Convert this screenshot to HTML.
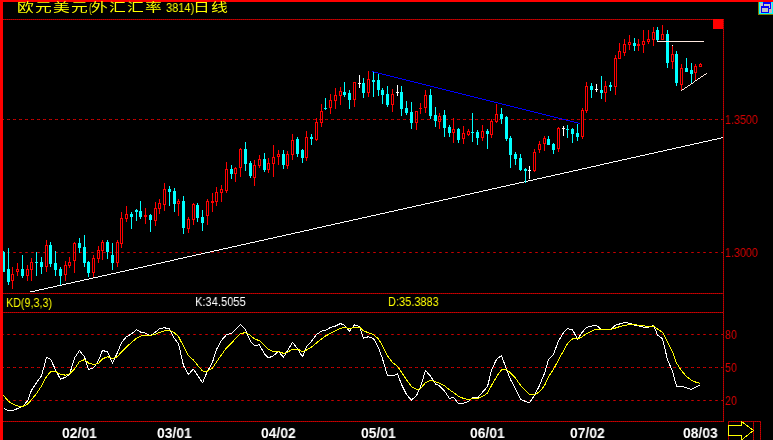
<!DOCTYPE html>
<html><head><meta charset="utf-8"><title>欧元美元 日线</title>
<style>
html,body{margin:0;padding:0;background:#000;}
#c{position:relative;width:773px;height:440px;background:#000;overflow:hidden;font-family:"Liberation Sans","Noto Sans CJK SC",sans-serif;}
#c svg{position:absolute;left:0;top:0;}
.t{position:absolute;white-space:nowrap;transform-origin:0 0;line-height:1;will-change:transform;}
.ax{color:#d80000;font-size:12.5px;transform:scaleX(0.86);}
.dt{color:#fff;font-weight:bold;font-size:14px;transform:scaleX(0.99);}
.kd{font-size:12.5px;transform:scaleX(0.88);}
.ti{color:#ffff00;font-size:12px;}
</style></head><body>
<div id="c">
<svg width="773" height="440" viewBox="0 0 773 440" shape-rendering="crispEdges">
<defs><pattern id="dz" width="2" height="2" patternUnits="userSpaceOnUse"><rect width="2" height="2" fill="#980000"/><rect width="1" height="1" fill="#cc0000"/><rect x="1" y="1" width="1" height="1" fill="#cc0000"/></pattern></defs>
<rect x="0" y="0" width="773" height="2" fill="#ff0000"/>
<rect x="3" y="19" width="721" height="1" fill="url(#dz)"/>
<rect x="3" y="293" width="721" height="1" fill="url(#dz)"/>
<rect x="3" y="312" width="721" height="1" fill="url(#dz)"/>
<rect x="3" y="421" width="721" height="1" fill="url(#dz)"/>
<rect x="723" y="19" width="1" height="403" fill="url(#dz)"/>
<path d="M3 119.5h1M7 119.5h3M13 119.5h3M19 119.5h3M25 119.5h3M31 119.5h3M37 119.5h3M43 119.5h3M49 119.5h3M55 119.5h3M61 119.5h3M67 119.5h3M73 119.5h3M79 119.5h3M85 119.5h3M91 119.5h3M97 119.5h3M103 119.5h3M109 119.5h3M115 119.5h3M121 119.5h3M127 119.5h3M133 119.5h3M139 119.5h3M145 119.5h3M151 119.5h3M157 119.5h3M163 119.5h3M169 119.5h3M175 119.5h3M181 119.5h3M187 119.5h3M193 119.5h3M199 119.5h3M205 119.5h3M211 119.5h3M217 119.5h3M223 119.5h3M229 119.5h3M235 119.5h3M241 119.5h3M247 119.5h3M253 119.5h3M259 119.5h3M265 119.5h3M271 119.5h3M277 119.5h3M283 119.5h3M289 119.5h3M295 119.5h3M301 119.5h3M307 119.5h3M313 119.5h3M319 119.5h3M325 119.5h3M331 119.5h3M337 119.5h3M343 119.5h3M349 119.5h3M355 119.5h3M361 119.5h3M367 119.5h3M373 119.5h3M379 119.5h3M385 119.5h3M391 119.5h3M397 119.5h3M403 119.5h3M409 119.5h3M415 119.5h3M421 119.5h3M427 119.5h3M433 119.5h3M439 119.5h3M445 119.5h3M451 119.5h3M457 119.5h3M463 119.5h3M469 119.5h3M475 119.5h3M481 119.5h3M487 119.5h3M493 119.5h3M499 119.5h3M505 119.5h3M511 119.5h3M517 119.5h3M523 119.5h3M529 119.5h3M535 119.5h3M541 119.5h3M547 119.5h3M553 119.5h3M559 119.5h3M565 119.5h3M571 119.5h3M577 119.5h3M583 119.5h3M589 119.5h3M595 119.5h3M601 119.5h3M607 119.5h3M613 119.5h3M619 119.5h3M625 119.5h3M631 119.5h3M637 119.5h3M643 119.5h3M649 119.5h3M655 119.5h3M661 119.5h3M667 119.5h3M673 119.5h3M679 119.5h3M685 119.5h3M691 119.5h3M697 119.5h3M703 119.5h3M709 119.5h3M715 119.5h3M721 119.5h2" stroke="url(#dz)" stroke-width="1" fill="none"/>
<path d="M3 252.5h1M7 252.5h3M13 252.5h3M19 252.5h3M25 252.5h3M31 252.5h3M37 252.5h3M43 252.5h3M49 252.5h3M55 252.5h3M61 252.5h3M67 252.5h3M73 252.5h3M79 252.5h3M85 252.5h3M91 252.5h3M97 252.5h3M103 252.5h3M109 252.5h3M115 252.5h3M121 252.5h3M127 252.5h3M133 252.5h3M139 252.5h3M145 252.5h3M151 252.5h3M157 252.5h3M163 252.5h3M169 252.5h3M175 252.5h3M181 252.5h3M187 252.5h3M193 252.5h3M199 252.5h3M205 252.5h3M211 252.5h3M217 252.5h3M223 252.5h3M229 252.5h3M235 252.5h3M241 252.5h3M247 252.5h3M253 252.5h3M259 252.5h3M265 252.5h3M271 252.5h3M277 252.5h3M283 252.5h3M289 252.5h3M295 252.5h3M301 252.5h3M307 252.5h3M313 252.5h3M319 252.5h3M325 252.5h3M331 252.5h3M337 252.5h3M343 252.5h3M349 252.5h3M355 252.5h3M361 252.5h3M367 252.5h3M373 252.5h3M379 252.5h3M385 252.5h3M391 252.5h3M397 252.5h3M403 252.5h3M409 252.5h3M415 252.5h3M421 252.5h3M427 252.5h3M433 252.5h3M439 252.5h3M445 252.5h3M451 252.5h3M457 252.5h3M463 252.5h3M469 252.5h3M475 252.5h3M481 252.5h3M487 252.5h3M493 252.5h3M499 252.5h3M505 252.5h3M511 252.5h3M517 252.5h3M523 252.5h3M529 252.5h3M535 252.5h3M541 252.5h3M547 252.5h3M553 252.5h3M559 252.5h3M565 252.5h3M571 252.5h3M577 252.5h3M583 252.5h3M589 252.5h3M595 252.5h3M601 252.5h3M607 252.5h3M613 252.5h3M619 252.5h3M625 252.5h3M631 252.5h3M637 252.5h3M643 252.5h3M649 252.5h3M655 252.5h3M661 252.5h3M667 252.5h3M673 252.5h3M679 252.5h3M685 252.5h3M691 252.5h3M697 252.5h3M703 252.5h3M709 252.5h3M715 252.5h3M721 252.5h2" stroke="url(#dz)" stroke-width="1" fill="none"/>
<path d="M3 334.5h1M7 334.5h3M13 334.5h3M19 334.5h3M25 334.5h3M31 334.5h3M37 334.5h3M43 334.5h3M49 334.5h3M55 334.5h3M61 334.5h3M67 334.5h3M73 334.5h3M79 334.5h3M85 334.5h3M91 334.5h3M97 334.5h3M103 334.5h3M109 334.5h3M115 334.5h3M121 334.5h3M127 334.5h3M133 334.5h3M139 334.5h3M145 334.5h3M151 334.5h3M157 334.5h3M163 334.5h3M169 334.5h3M175 334.5h3M181 334.5h3M187 334.5h3M193 334.5h3M199 334.5h3M205 334.5h3M211 334.5h3M217 334.5h3M223 334.5h3M229 334.5h3M235 334.5h3M241 334.5h3M247 334.5h3M253 334.5h3M259 334.5h3M265 334.5h3M271 334.5h3M277 334.5h3M283 334.5h3M289 334.5h3M295 334.5h3M301 334.5h3M307 334.5h3M313 334.5h3M319 334.5h3M325 334.5h3M331 334.5h3M337 334.5h3M343 334.5h3M349 334.5h3M355 334.5h3M361 334.5h3M367 334.5h3M373 334.5h3M379 334.5h3M385 334.5h3M391 334.5h3M397 334.5h3M403 334.5h3M409 334.5h3M415 334.5h3M421 334.5h3M427 334.5h3M433 334.5h3M439 334.5h3M445 334.5h3M451 334.5h3M457 334.5h3M463 334.5h3M469 334.5h3M475 334.5h3M481 334.5h3M487 334.5h3M493 334.5h3M499 334.5h3M505 334.5h3M511 334.5h3M517 334.5h3M523 334.5h3M529 334.5h3M535 334.5h3M541 334.5h3M547 334.5h3M553 334.5h3M559 334.5h3M565 334.5h3M571 334.5h3M577 334.5h3M583 334.5h3M589 334.5h3M595 334.5h3M601 334.5h3M607 334.5h3M613 334.5h3M619 334.5h3M625 334.5h3M631 334.5h3M637 334.5h3M643 334.5h3M649 334.5h3M655 334.5h3M661 334.5h3M667 334.5h3M673 334.5h3M679 334.5h3M685 334.5h3M691 334.5h3M697 334.5h3M703 334.5h3M709 334.5h3M715 334.5h3M721 334.5h2" stroke="url(#dz)" stroke-width="1" fill="none"/>
<path d="M3 367.5h1M7 367.5h3M13 367.5h3M19 367.5h3M25 367.5h3M31 367.5h3M37 367.5h3M43 367.5h3M49 367.5h3M55 367.5h3M61 367.5h3M67 367.5h3M73 367.5h3M79 367.5h3M85 367.5h3M91 367.5h3M97 367.5h3M103 367.5h3M109 367.5h3M115 367.5h3M121 367.5h3M127 367.5h3M133 367.5h3M139 367.5h3M145 367.5h3M151 367.5h3M157 367.5h3M163 367.5h3M169 367.5h3M175 367.5h3M181 367.5h3M187 367.5h3M193 367.5h3M199 367.5h3M205 367.5h3M211 367.5h3M217 367.5h3M223 367.5h3M229 367.5h3M235 367.5h3M241 367.5h3M247 367.5h3M253 367.5h3M259 367.5h3M265 367.5h3M271 367.5h3M277 367.5h3M283 367.5h3M289 367.5h3M295 367.5h3M301 367.5h3M307 367.5h3M313 367.5h3M319 367.5h3M325 367.5h3M331 367.5h3M337 367.5h3M343 367.5h3M349 367.5h3M355 367.5h3M361 367.5h3M367 367.5h3M373 367.5h3M379 367.5h3M385 367.5h3M391 367.5h3M397 367.5h3M403 367.5h3M409 367.5h3M415 367.5h3M421 367.5h3M427 367.5h3M433 367.5h3M439 367.5h3M445 367.5h3M451 367.5h3M457 367.5h3M463 367.5h3M469 367.5h3M475 367.5h3M481 367.5h3M487 367.5h3M493 367.5h3M499 367.5h3M505 367.5h3M511 367.5h3M517 367.5h3M523 367.5h3M529 367.5h3M535 367.5h3M541 367.5h3M547 367.5h3M553 367.5h3M559 367.5h3M565 367.5h3M571 367.5h3M577 367.5h3M583 367.5h3M589 367.5h3M595 367.5h3M601 367.5h3M607 367.5h3M613 367.5h3M619 367.5h3M625 367.5h3M631 367.5h3M637 367.5h3M643 367.5h3M649 367.5h3M655 367.5h3M661 367.5h3M667 367.5h3M673 367.5h3M679 367.5h3M685 367.5h3M691 367.5h3M697 367.5h3M703 367.5h3M709 367.5h3M715 367.5h3M721 367.5h2" stroke="url(#dz)" stroke-width="1" fill="none"/>
<path d="M3 400.5h1M7 400.5h3M13 400.5h3M19 400.5h3M25 400.5h3M31 400.5h3M37 400.5h3M43 400.5h3M49 400.5h3M55 400.5h3M61 400.5h3M67 400.5h3M73 400.5h3M79 400.5h3M85 400.5h3M91 400.5h3M97 400.5h3M103 400.5h3M109 400.5h3M115 400.5h3M121 400.5h3M127 400.5h3M133 400.5h3M139 400.5h3M145 400.5h3M151 400.5h3M157 400.5h3M163 400.5h3M169 400.5h3M175 400.5h3M181 400.5h3M187 400.5h3M193 400.5h3M199 400.5h3M205 400.5h3M211 400.5h3M217 400.5h3M223 400.5h3M229 400.5h3M235 400.5h3M241 400.5h3M247 400.5h3M253 400.5h3M259 400.5h3M265 400.5h3M271 400.5h3M277 400.5h3M283 400.5h3M289 400.5h3M295 400.5h3M301 400.5h3M307 400.5h3M313 400.5h3M319 400.5h3M325 400.5h3M331 400.5h3M337 400.5h3M343 400.5h3M349 400.5h3M355 400.5h3M361 400.5h3M367 400.5h3M373 400.5h3M379 400.5h3M385 400.5h3M391 400.5h3M397 400.5h3M403 400.5h3M409 400.5h3M415 400.5h3M421 400.5h3M427 400.5h3M433 400.5h3M439 400.5h3M445 400.5h3M451 400.5h3M457 400.5h3M463 400.5h3M469 400.5h3M475 400.5h3M481 400.5h3M487 400.5h3M493 400.5h3M499 400.5h3M505 400.5h3M511 400.5h3M517 400.5h3M523 400.5h3M529 400.5h3M535 400.5h3M541 400.5h3M547 400.5h3M553 400.5h3M559 400.5h3M565 400.5h3M571 400.5h3M577 400.5h3M583 400.5h3M589 400.5h3M595 400.5h3M601 400.5h3M607 400.5h3M613 400.5h3M619 400.5h3M625 400.5h3M631 400.5h3M637 400.5h3M643 400.5h3M649 400.5h3M655 400.5h3M661 400.5h3M667 400.5h3M673 400.5h3M679 400.5h3M685 400.5h3M691 400.5h3M697 400.5h3M703 400.5h3M709 400.5h3M715 400.5h3M721 400.5h2" stroke="url(#dz)" stroke-width="1" fill="none"/>
<rect x="713" y="19" width="10" height="10" fill="#ff0000"/>
<rect x="30" y="291" width="5" height="1" fill="#ffffff"/>
<rect x="35" y="290" width="4" height="1" fill="#ffffff"/>
<rect x="39" y="289" width="5" height="1" fill="#ffffff"/>
<rect x="44" y="288" width="4" height="1" fill="#ffffff"/>
<rect x="48" y="287" width="5" height="1" fill="#ffffff"/>
<rect x="53" y="286" width="4" height="1" fill="#ffffff"/>
<rect x="57" y="285" width="5" height="1" fill="#ffffff"/>
<rect x="62" y="284" width="4" height="1" fill="#ffffff"/>
<rect x="66" y="283" width="5" height="1" fill="#ffffff"/>
<rect x="71" y="282" width="4" height="1" fill="#ffffff"/>
<rect x="75" y="281" width="5" height="1" fill="#ffffff"/>
<rect x="80" y="280" width="4" height="1" fill="#ffffff"/>
<rect x="84" y="279" width="5" height="1" fill="#ffffff"/>
<rect x="89" y="278" width="4" height="1" fill="#ffffff"/>
<rect x="93" y="277" width="5" height="1" fill="#ffffff"/>
<rect x="98" y="276" width="4" height="1" fill="#ffffff"/>
<rect x="102" y="275" width="5" height="1" fill="#ffffff"/>
<rect x="107" y="274" width="4" height="1" fill="#ffffff"/>
<rect x="111" y="273" width="5" height="1" fill="#ffffff"/>
<rect x="116" y="272" width="4" height="1" fill="#ffffff"/>
<rect x="120" y="271" width="5" height="1" fill="#ffffff"/>
<rect x="125" y="270" width="4" height="1" fill="#ffffff"/>
<rect x="129" y="269" width="5" height="1" fill="#ffffff"/>
<rect x="134" y="268" width="4" height="1" fill="#ffffff"/>
<rect x="138" y="267" width="5" height="1" fill="#ffffff"/>
<rect x="143" y="266" width="4" height="1" fill="#ffffff"/>
<rect x="147" y="265" width="5" height="1" fill="#ffffff"/>
<rect x="152" y="264" width="4" height="1" fill="#ffffff"/>
<rect x="156" y="263" width="5" height="1" fill="#ffffff"/>
<rect x="161" y="262" width="4" height="1" fill="#ffffff"/>
<rect x="165" y="261" width="5" height="1" fill="#ffffff"/>
<rect x="170" y="260" width="4" height="1" fill="#ffffff"/>
<rect x="174" y="259" width="4" height="1" fill="#ffffff"/>
<rect x="178" y="258" width="5" height="1" fill="#ffffff"/>
<rect x="183" y="257" width="4" height="1" fill="#ffffff"/>
<rect x="187" y="256" width="5" height="1" fill="#ffffff"/>
<rect x="192" y="255" width="4" height="1" fill="#ffffff"/>
<rect x="196" y="254" width="5" height="1" fill="#ffffff"/>
<rect x="201" y="253" width="4" height="1" fill="#ffffff"/>
<rect x="205" y="252" width="5" height="1" fill="#ffffff"/>
<rect x="210" y="251" width="4" height="1" fill="#ffffff"/>
<rect x="214" y="250" width="5" height="1" fill="#ffffff"/>
<rect x="219" y="249" width="4" height="1" fill="#ffffff"/>
<rect x="223" y="248" width="5" height="1" fill="#ffffff"/>
<rect x="228" y="247" width="4" height="1" fill="#ffffff"/>
<rect x="232" y="246" width="5" height="1" fill="#ffffff"/>
<rect x="237" y="245" width="4" height="1" fill="#ffffff"/>
<rect x="241" y="244" width="5" height="1" fill="#ffffff"/>
<rect x="246" y="243" width="4" height="1" fill="#ffffff"/>
<rect x="250" y="242" width="5" height="1" fill="#ffffff"/>
<rect x="255" y="241" width="4" height="1" fill="#ffffff"/>
<rect x="259" y="240" width="5" height="1" fill="#ffffff"/>
<rect x="264" y="239" width="4" height="1" fill="#ffffff"/>
<rect x="268" y="238" width="5" height="1" fill="#ffffff"/>
<rect x="273" y="237" width="4" height="1" fill="#ffffff"/>
<rect x="277" y="236" width="5" height="1" fill="#ffffff"/>
<rect x="282" y="235" width="4" height="1" fill="#ffffff"/>
<rect x="286" y="234" width="5" height="1" fill="#ffffff"/>
<rect x="291" y="233" width="4" height="1" fill="#ffffff"/>
<rect x="295" y="232" width="5" height="1" fill="#ffffff"/>
<rect x="300" y="231" width="4" height="1" fill="#ffffff"/>
<rect x="304" y="230" width="5" height="1" fill="#ffffff"/>
<rect x="309" y="229" width="4" height="1" fill="#ffffff"/>
<rect x="313" y="228" width="4" height="1" fill="#ffffff"/>
<rect x="317" y="227" width="5" height="1" fill="#ffffff"/>
<rect x="322" y="226" width="4" height="1" fill="#ffffff"/>
<rect x="326" y="225" width="5" height="1" fill="#ffffff"/>
<rect x="331" y="224" width="4" height="1" fill="#ffffff"/>
<rect x="335" y="223" width="5" height="1" fill="#ffffff"/>
<rect x="340" y="222" width="4" height="1" fill="#ffffff"/>
<rect x="344" y="221" width="5" height="1" fill="#ffffff"/>
<rect x="349" y="220" width="4" height="1" fill="#ffffff"/>
<rect x="353" y="219" width="5" height="1" fill="#ffffff"/>
<rect x="358" y="218" width="4" height="1" fill="#ffffff"/>
<rect x="362" y="217" width="5" height="1" fill="#ffffff"/>
<rect x="367" y="216" width="4" height="1" fill="#ffffff"/>
<rect x="371" y="215" width="5" height="1" fill="#ffffff"/>
<rect x="376" y="214" width="4" height="1" fill="#ffffff"/>
<rect x="380" y="213" width="5" height="1" fill="#ffffff"/>
<rect x="385" y="212" width="4" height="1" fill="#ffffff"/>
<rect x="389" y="211" width="5" height="1" fill="#ffffff"/>
<rect x="394" y="210" width="4" height="1" fill="#ffffff"/>
<rect x="398" y="209" width="5" height="1" fill="#ffffff"/>
<rect x="403" y="208" width="4" height="1" fill="#ffffff"/>
<rect x="407" y="207" width="5" height="1" fill="#ffffff"/>
<rect x="412" y="206" width="4" height="1" fill="#ffffff"/>
<rect x="416" y="205" width="5" height="1" fill="#ffffff"/>
<rect x="421" y="204" width="4" height="1" fill="#ffffff"/>
<rect x="425" y="203" width="5" height="1" fill="#ffffff"/>
<rect x="430" y="202" width="4" height="1" fill="#ffffff"/>
<rect x="434" y="201" width="5" height="1" fill="#ffffff"/>
<rect x="439" y="200" width="4" height="1" fill="#ffffff"/>
<rect x="443" y="199" width="5" height="1" fill="#ffffff"/>
<rect x="448" y="198" width="4" height="1" fill="#ffffff"/>
<rect x="452" y="197" width="5" height="1" fill="#ffffff"/>
<rect x="457" y="196" width="4" height="1" fill="#ffffff"/>
<rect x="461" y="195" width="4" height="1" fill="#ffffff"/>
<rect x="465" y="194" width="5" height="1" fill="#ffffff"/>
<rect x="470" y="193" width="4" height="1" fill="#ffffff"/>
<rect x="474" y="192" width="5" height="1" fill="#ffffff"/>
<rect x="479" y="191" width="4" height="1" fill="#ffffff"/>
<rect x="483" y="190" width="5" height="1" fill="#ffffff"/>
<rect x="488" y="189" width="4" height="1" fill="#ffffff"/>
<rect x="492" y="188" width="5" height="1" fill="#ffffff"/>
<rect x="497" y="187" width="4" height="1" fill="#ffffff"/>
<rect x="501" y="186" width="5" height="1" fill="#ffffff"/>
<rect x="506" y="185" width="4" height="1" fill="#ffffff"/>
<rect x="510" y="184" width="5" height="1" fill="#ffffff"/>
<rect x="515" y="183" width="4" height="1" fill="#ffffff"/>
<rect x="519" y="182" width="5" height="1" fill="#ffffff"/>
<rect x="524" y="181" width="4" height="1" fill="#ffffff"/>
<rect x="528" y="180" width="5" height="1" fill="#ffffff"/>
<rect x="533" y="179" width="4" height="1" fill="#ffffff"/>
<rect x="537" y="178" width="5" height="1" fill="#ffffff"/>
<rect x="542" y="177" width="4" height="1" fill="#ffffff"/>
<rect x="546" y="176" width="5" height="1" fill="#ffffff"/>
<rect x="551" y="175" width="4" height="1" fill="#ffffff"/>
<rect x="555" y="174" width="5" height="1" fill="#ffffff"/>
<rect x="560" y="173" width="4" height="1" fill="#ffffff"/>
<rect x="564" y="172" width="5" height="1" fill="#ffffff"/>
<rect x="569" y="171" width="4" height="1" fill="#ffffff"/>
<rect x="573" y="170" width="5" height="1" fill="#ffffff"/>
<rect x="578" y="169" width="4" height="1" fill="#ffffff"/>
<rect x="582" y="168" width="5" height="1" fill="#ffffff"/>
<rect x="587" y="167" width="4" height="1" fill="#ffffff"/>
<rect x="591" y="166" width="5" height="1" fill="#ffffff"/>
<rect x="596" y="165" width="4" height="1" fill="#ffffff"/>
<rect x="600" y="164" width="4" height="1" fill="#ffffff"/>
<rect x="604" y="163" width="5" height="1" fill="#ffffff"/>
<rect x="609" y="162" width="4" height="1" fill="#ffffff"/>
<rect x="613" y="161" width="5" height="1" fill="#ffffff"/>
<rect x="618" y="160" width="4" height="1" fill="#ffffff"/>
<rect x="622" y="159" width="5" height="1" fill="#ffffff"/>
<rect x="627" y="158" width="4" height="1" fill="#ffffff"/>
<rect x="631" y="157" width="5" height="1" fill="#ffffff"/>
<rect x="636" y="156" width="4" height="1" fill="#ffffff"/>
<rect x="640" y="155" width="5" height="1" fill="#ffffff"/>
<rect x="645" y="154" width="4" height="1" fill="#ffffff"/>
<rect x="649" y="153" width="5" height="1" fill="#ffffff"/>
<rect x="654" y="152" width="4" height="1" fill="#ffffff"/>
<rect x="658" y="151" width="5" height="1" fill="#ffffff"/>
<rect x="663" y="150" width="4" height="1" fill="#ffffff"/>
<rect x="667" y="149" width="5" height="1" fill="#ffffff"/>
<rect x="672" y="148" width="4" height="1" fill="#ffffff"/>
<rect x="676" y="147" width="5" height="1" fill="#ffffff"/>
<rect x="681" y="146" width="4" height="1" fill="#ffffff"/>
<rect x="685" y="145" width="5" height="1" fill="#ffffff"/>
<rect x="690" y="144" width="4" height="1" fill="#ffffff"/>
<rect x="694" y="143" width="5" height="1" fill="#ffffff"/>
<rect x="699" y="142" width="4" height="1" fill="#ffffff"/>
<rect x="703" y="141" width="5" height="1" fill="#ffffff"/>
<rect x="708" y="140" width="4" height="1" fill="#ffffff"/>
<rect x="712" y="139" width="5" height="1" fill="#ffffff"/>
<rect x="717" y="138" width="4" height="1" fill="#ffffff"/>
<rect x="721" y="137" width="2" height="1" fill="#ffffff"/>
<rect x="3" y="251" width="1" height="21" fill="#00ffff"/>
<rect x="2" y="252" width="3" height="20" fill="#00ffff"/>
<rect x="8" y="248" width="1" height="37" fill="#00ffff"/>
<rect x="7" y="269" width="3" height="13" fill="#00ffff"/>
<rect x="12" y="267" width="1" height="7" fill="#ff0000"/>
<rect x="12" y="281" width="1" height="8" fill="#ff0000"/>
<path d="M11 274h3v7h-3zM12 275v5h1v-5z" fill="#ff0000" fill-rule="evenodd"/>
<rect x="17" y="263" width="1" height="6" fill="#ff0000"/>
<rect x="17" y="272" width="1" height="4" fill="#ff0000"/>
<path d="M16 269h3v3h-3zM17 270v1h1v-1z" fill="#ff0000" fill-rule="evenodd"/>
<rect x="22" y="255" width="1" height="23" fill="#00ffff"/>
<rect x="21" y="269" width="3" height="7" fill="#00ffff"/>
<rect x="27" y="265" width="1" height="4" fill="#ff0000"/>
<rect x="27" y="276" width="1" height="5" fill="#ff0000"/>
<path d="M26 269h3v7h-3zM27 270v5h1v-5z" fill="#ff0000" fill-rule="evenodd"/>
<rect x="31" y="258" width="1" height="4" fill="#ff0000"/>
<rect x="31" y="270" width="1" height="11" fill="#ff0000"/>
<path d="M30 262h3v8h-3zM31 263v6h1v-6z" fill="#ff0000" fill-rule="evenodd"/>
<rect x="36" y="252" width="1" height="24" fill="#00ffff"/>
<rect x="35" y="262" width="3" height="1" fill="#00ffff"/>
<rect x="41" y="257" width="1" height="17" fill="#00ffff"/>
<rect x="40" y="262" width="3" height="5" fill="#00ffff"/>
<rect x="46" y="240" width="1" height="5" fill="#ff0000"/>
<rect x="46" y="267" width="1" height="5" fill="#ff0000"/>
<path d="M45 245h3v22h-3zM46 246v20h1v-20z" fill="#ff0000" fill-rule="evenodd"/>
<rect x="50" y="242" width="1" height="25" fill="#00ffff"/>
<rect x="49" y="245" width="3" height="19" fill="#00ffff"/>
<rect x="55" y="251" width="1" height="25" fill="#00ffff"/>
<rect x="54" y="263" width="3" height="7" fill="#00ffff"/>
<rect x="60" y="267" width="1" height="18" fill="#00ffff"/>
<rect x="59" y="269" width="3" height="7" fill="#00ffff"/>
<rect x="65" y="261" width="1" height="4" fill="#ff0000"/>
<rect x="65" y="275" width="1" height="6" fill="#ff0000"/>
<path d="M64 265h3v10h-3zM65 266v8h1v-8z" fill="#ff0000" fill-rule="evenodd"/>
<rect x="69" y="257" width="1" height="5" fill="#ff0000"/>
<rect x="69" y="266" width="1" height="2" fill="#ff0000"/>
<path d="M68 262h3v4h-3zM69 263v2h1v-2z" fill="#ff0000" fill-rule="evenodd"/>
<rect x="74" y="242" width="1" height="1" fill="#ff0000"/>
<rect x="74" y="261" width="1" height="12" fill="#ff0000"/>
<path d="M73 243h3v18h-3zM74 244v16h1v-16z" fill="#ff0000" fill-rule="evenodd"/>
<rect x="79" y="238" width="1" height="15" fill="#00ffff"/>
<rect x="78" y="243" width="3" height="5" fill="#00ffff"/>
<rect x="84" y="235" width="1" height="32" fill="#00ffff"/>
<rect x="83" y="247" width="3" height="16" fill="#00ffff"/>
<rect x="88" y="261" width="1" height="16" fill="#00ffff"/>
<rect x="87" y="262" width="3" height="11" fill="#00ffff"/>
<rect x="93" y="255" width="1" height="3" fill="#ff0000"/>
<rect x="93" y="273" width="1" height="4" fill="#ff0000"/>
<path d="M92 258h3v15h-3zM93 259v13h1v-13z" fill="#ff0000" fill-rule="evenodd"/>
<rect x="98" y="246" width="1" height="4" fill="#ff0000"/>
<rect x="98" y="259" width="1" height="4" fill="#ff0000"/>
<path d="M97 250h3v9h-3zM98 251v7h1v-7z" fill="#ff0000" fill-rule="evenodd"/>
<rect x="102" y="240" width="1" height="2" fill="#ff0000"/>
<rect x="102" y="251" width="1" height="9" fill="#ff0000"/>
<path d="M101 242h3v9h-3zM102 243v7h1v-7z" fill="#ff0000" fill-rule="evenodd"/>
<rect x="107" y="240" width="1" height="19" fill="#00ffff"/>
<rect x="106" y="242" width="3" height="10" fill="#00ffff"/>
<rect x="112" y="243" width="1" height="27" fill="#00ffff"/>
<rect x="111" y="255" width="3" height="8" fill="#00ffff"/>
<rect x="117" y="240" width="1" height="2" fill="#ff0000"/>
<rect x="117" y="263" width="1" height="4" fill="#ff0000"/>
<path d="M116 242h3v21h-3zM117 243v19h1v-19z" fill="#ff0000" fill-rule="evenodd"/>
<rect x="121" y="212" width="1" height="6" fill="#ff0000"/>
<rect x="121" y="244" width="1" height="4" fill="#ff0000"/>
<path d="M120 218h3v26h-3zM121 219v24h1v-24z" fill="#ff0000" fill-rule="evenodd"/>
<rect x="126" y="206" width="1" height="8" fill="#ff0000"/>
<rect x="126" y="219" width="1" height="3" fill="#ff0000"/>
<path d="M125 214h3v5h-3zM126 215v3h1v-3z" fill="#ff0000" fill-rule="evenodd"/>
<rect x="131" y="212" width="1" height="17" fill="#00ffff"/>
<rect x="130" y="214" width="3" height="3" fill="#00ffff"/>
<rect x="136" y="209" width="1" height="12" fill="#00ffff"/>
<rect x="135" y="210" width="3" height="2" fill="#00ffff"/>
<rect x="140" y="201" width="1" height="18" fill="#00ffff"/>
<rect x="139" y="211" width="3" height="6" fill="#00ffff"/>
<rect x="145" y="208" width="1" height="16" fill="#ff0000"/>
<rect x="144" y="215" width="3" height="2" fill="#ff0000"/>
<rect x="150" y="214" width="1" height="18" fill="#00ffff"/>
<rect x="149" y="215" width="3" height="5" fill="#00ffff"/>
<rect x="155" y="202" width="1" height="6" fill="#ff0000"/>
<rect x="155" y="221" width="1" height="5" fill="#ff0000"/>
<path d="M154 208h3v13h-3zM155 209v11h1v-11z" fill="#ff0000" fill-rule="evenodd"/>
<rect x="159" y="199" width="1" height="4" fill="#ff0000"/>
<rect x="159" y="209" width="1" height="5" fill="#ff0000"/>
<path d="M158 203h3v6h-3zM159 204v4h1v-4z" fill="#ff0000" fill-rule="evenodd"/>
<rect x="164" y="183" width="1" height="6" fill="#ff0000"/>
<rect x="164" y="205" width="1" height="6" fill="#ff0000"/>
<path d="M163 189h3v16h-3zM164 190v14h1v-14z" fill="#ff0000" fill-rule="evenodd"/>
<rect x="169" y="186" width="1" height="20" fill="#00ffff"/>
<rect x="168" y="189" width="3" height="3" fill="#00ffff"/>
<rect x="174" y="188" width="1" height="24" fill="#00ffff"/>
<rect x="173" y="191" width="3" height="13" fill="#00ffff"/>
<rect x="178" y="199" width="1" height="2" fill="#ff0000"/>
<rect x="178" y="204" width="1" height="12" fill="#ff0000"/>
<path d="M177 201h3v3h-3zM178 202v1h1v-1z" fill="#ff0000" fill-rule="evenodd"/>
<rect x="183" y="196" width="1" height="38" fill="#00ffff"/>
<rect x="182" y="201" width="3" height="27" fill="#00ffff"/>
<rect x="188" y="217" width="1" height="2" fill="#ff0000"/>
<rect x="188" y="229" width="1" height="4" fill="#ff0000"/>
<path d="M187 219h3v10h-3zM188 220v8h1v-8z" fill="#ff0000" fill-rule="evenodd"/>
<rect x="193" y="203" width="1" height="1" fill="#ff0000"/>
<rect x="193" y="220" width="1" height="5" fill="#ff0000"/>
<path d="M192 204h3v16h-3zM193 205v14h1v-14z" fill="#ff0000" fill-rule="evenodd"/>
<rect x="197" y="203" width="1" height="19" fill="#00ffff"/>
<rect x="196" y="205" width="3" height="13" fill="#00ffff"/>
<rect x="202" y="210" width="1" height="21" fill="#00ffff"/>
<rect x="201" y="217" width="3" height="6" fill="#00ffff"/>
<rect x="207" y="199" width="1" height="2" fill="#ff0000"/>
<rect x="207" y="216" width="1" height="9" fill="#ff0000"/>
<path d="M206 201h3v15h-3zM207 202v13h1v-13z" fill="#ff0000" fill-rule="evenodd"/>
<rect x="212" y="193" width="1" height="19" fill="#ff0000"/>
<rect x="211" y="201" width="3" height="2" fill="#ff0000"/>
<rect x="216" y="187" width="1" height="5" fill="#ff0000"/>
<rect x="216" y="202" width="1" height="4" fill="#ff0000"/>
<path d="M215 192h3v10h-3zM216 193v8h1v-8z" fill="#ff0000" fill-rule="evenodd"/>
<rect x="221" y="185" width="1" height="4" fill="#ff0000"/>
<rect x="221" y="193" width="1" height="9" fill="#ff0000"/>
<path d="M220 189h3v4h-3zM221 190v2h1v-2z" fill="#ff0000" fill-rule="evenodd"/>
<rect x="226" y="162" width="1" height="7" fill="#ff0000"/>
<rect x="226" y="191" width="1" height="2" fill="#ff0000"/>
<path d="M225 169h3v22h-3zM226 170v20h1v-20z" fill="#ff0000" fill-rule="evenodd"/>
<rect x="231" y="165" width="1" height="14" fill="#00ffff"/>
<rect x="230" y="169" width="3" height="5" fill="#00ffff"/>
<rect x="235" y="167" width="1" height="1" fill="#ff0000"/>
<rect x="235" y="174" width="1" height="8" fill="#ff0000"/>
<path d="M234 168h3v6h-3zM235 169v4h1v-4z" fill="#ff0000" fill-rule="evenodd"/>
<rect x="240" y="148" width="1" height="1" fill="#ff0000"/>
<rect x="240" y="168" width="1" height="9" fill="#ff0000"/>
<path d="M239 149h3v19h-3zM240 150v17h1v-17z" fill="#ff0000" fill-rule="evenodd"/>
<rect x="245" y="142" width="1" height="29" fill="#00ffff"/>
<rect x="244" y="149" width="3" height="15" fill="#00ffff"/>
<rect x="250" y="161" width="1" height="17" fill="#00ffff"/>
<rect x="249" y="163" width="3" height="13" fill="#00ffff"/>
<rect x="254" y="160" width="1" height="5" fill="#ff0000"/>
<rect x="254" y="178" width="1" height="8" fill="#ff0000"/>
<path d="M253 165h3v13h-3zM254 166v11h1v-11z" fill="#ff0000" fill-rule="evenodd"/>
<rect x="259" y="155" width="1" height="4" fill="#ff0000"/>
<rect x="259" y="166" width="1" height="2" fill="#ff0000"/>
<path d="M258 159h3v7h-3zM259 160v5h1v-5z" fill="#ff0000" fill-rule="evenodd"/>
<rect x="264" y="153" width="1" height="19" fill="#00ffff"/>
<rect x="263" y="159" width="3" height="11" fill="#00ffff"/>
<rect x="268" y="158" width="1" height="5" fill="#ff0000"/>
<rect x="268" y="170" width="1" height="3" fill="#ff0000"/>
<path d="M267 163h3v7h-3zM268 164v5h1v-5z" fill="#ff0000" fill-rule="evenodd"/>
<rect x="273" y="145" width="1" height="12" fill="#ff0000"/>
<rect x="273" y="164" width="1" height="13" fill="#ff0000"/>
<path d="M272 157h3v7h-3zM273 158v5h1v-5z" fill="#ff0000" fill-rule="evenodd"/>
<rect x="278" y="150" width="1" height="4" fill="#ff0000"/>
<rect x="278" y="157" width="1" height="8" fill="#ff0000"/>
<path d="M277 154h3v3h-3zM278 155v1h1v-1z" fill="#ff0000" fill-rule="evenodd"/>
<rect x="283" y="150" width="1" height="19" fill="#00ffff"/>
<rect x="282" y="154" width="3" height="11" fill="#00ffff"/>
<rect x="287" y="151" width="1" height="3" fill="#ff0000"/>
<rect x="287" y="166" width="1" height="3" fill="#ff0000"/>
<path d="M286 154h3v12h-3zM287 155v10h1v-10z" fill="#ff0000" fill-rule="evenodd"/>
<rect x="292" y="134" width="1" height="6" fill="#ff0000"/>
<rect x="292" y="155" width="1" height="5" fill="#ff0000"/>
<path d="M291 140h3v15h-3zM292 141v13h1v-13z" fill="#ff0000" fill-rule="evenodd"/>
<rect x="297" y="137" width="1" height="20" fill="#00ffff"/>
<rect x="296" y="139" width="3" height="15" fill="#00ffff"/>
<rect x="302" y="149" width="1" height="14" fill="#00ffff"/>
<rect x="301" y="150" width="3" height="8" fill="#00ffff"/>
<rect x="306" y="131" width="1" height="6" fill="#ff0000"/>
<rect x="306" y="158" width="1" height="3" fill="#ff0000"/>
<path d="M305 137h3v21h-3zM306 138v19h1v-19z" fill="#ff0000" fill-rule="evenodd"/>
<rect x="311" y="134" width="1" height="11" fill="#00ffff"/>
<rect x="310" y="137" width="3" height="2" fill="#00ffff"/>
<rect x="316" y="118" width="1" height="4" fill="#ff0000"/>
<rect x="316" y="140" width="1" height="1" fill="#ff0000"/>
<path d="M315 122h3v18h-3zM316 123v16h1v-16z" fill="#ff0000" fill-rule="evenodd"/>
<rect x="321" y="104" width="1" height="7" fill="#ff0000"/>
<rect x="321" y="123" width="1" height="4" fill="#ff0000"/>
<path d="M320 111h3v12h-3zM321 112v10h1v-10z" fill="#ff0000" fill-rule="evenodd"/>
<rect x="325" y="98" width="1" height="12" fill="#00ffff"/>
<rect x="324" y="108" width="3" height="1" fill="#00ffff"/>
<rect x="330" y="94" width="1" height="6" fill="#ff0000"/>
<rect x="330" y="108" width="1" height="6" fill="#ff0000"/>
<path d="M329 100h3v8h-3zM330 101v6h1v-6z" fill="#ff0000" fill-rule="evenodd"/>
<rect x="335" y="88" width="1" height="7" fill="#ff0000"/>
<rect x="335" y="101" width="1" height="8" fill="#ff0000"/>
<path d="M334 95h3v6h-3zM335 96v4h1v-4z" fill="#ff0000" fill-rule="evenodd"/>
<rect x="340" y="87" width="1" height="4" fill="#ff0000"/>
<rect x="340" y="96" width="1" height="9" fill="#ff0000"/>
<path d="M339 91h3v5h-3zM340 92v3h1v-3z" fill="#ff0000" fill-rule="evenodd"/>
<rect x="344" y="82" width="1" height="15" fill="#00ffff"/>
<rect x="343" y="92" width="3" height="3" fill="#00ffff"/>
<rect x="349" y="90" width="1" height="19" fill="#00ffff"/>
<rect x="348" y="93" width="3" height="7" fill="#00ffff"/>
<rect x="354" y="100" width="1" height="7" fill="#ff0000"/>
<path d="M353 82h3v18h-3zM354 83v16h1v-16z" fill="#ff0000" fill-rule="evenodd"/>
<rect x="359" y="75" width="1" height="13" fill="#ffffff"/>
<rect x="358" y="83" width="3" height="1" fill="#ffffff"/>
<rect x="363" y="78" width="1" height="20" fill="#00ffff"/>
<rect x="362" y="83" width="3" height="10" fill="#00ffff"/>
<rect x="368" y="71" width="1" height="8" fill="#ff0000"/>
<rect x="368" y="93" width="1" height="4" fill="#ff0000"/>
<path d="M367 79h3v14h-3zM368 80v12h1v-12z" fill="#ff0000" fill-rule="evenodd"/>
<rect x="373" y="71" width="1" height="26" fill="#00ffff"/>
<rect x="372" y="80" width="3" height="2" fill="#00ffff"/>
<rect x="378" y="74" width="1" height="22" fill="#00ffff"/>
<rect x="377" y="80" width="3" height="10" fill="#00ffff"/>
<rect x="382" y="88" width="1" height="16" fill="#00ffff"/>
<rect x="381" y="90" width="3" height="5" fill="#00ffff"/>
<rect x="387" y="86" width="1" height="21" fill="#00ffff"/>
<rect x="386" y="94" width="3" height="11" fill="#00ffff"/>
<rect x="392" y="89" width="1" height="5" fill="#ff0000"/>
<rect x="392" y="105" width="1" height="7" fill="#ff0000"/>
<path d="M391 94h3v11h-3zM392 95v9h1v-9z" fill="#ff0000" fill-rule="evenodd"/>
<rect x="397" y="85" width="1" height="11" fill="#ffffff"/>
<rect x="396" y="92" width="3" height="1" fill="#ffffff"/>
<rect x="401" y="86" width="1" height="30" fill="#00ffff"/>
<rect x="400" y="92" width="3" height="17" fill="#00ffff"/>
<rect x="406" y="101" width="1" height="14" fill="#00ffff"/>
<rect x="405" y="108" width="3" height="5" fill="#00ffff"/>
<rect x="411" y="102" width="1" height="27" fill="#00ffff"/>
<rect x="410" y="112" width="3" height="11" fill="#00ffff"/>
<rect x="416" y="123" width="1" height="7" fill="#ff0000"/>
<path d="M415 111h3v12h-3zM416 112v10h1v-10z" fill="#ff0000" fill-rule="evenodd"/>
<rect x="420" y="103" width="1" height="11" fill="#ff0000"/>
<rect x="419" y="108" width="3" height="1" fill="#ff0000"/>
<rect x="425" y="90" width="1" height="5" fill="#ff0000"/>
<rect x="425" y="108" width="1" height="5" fill="#ff0000"/>
<path d="M424 95h3v13h-3zM425 96v11h1v-11z" fill="#ff0000" fill-rule="evenodd"/>
<rect x="430" y="89" width="1" height="30" fill="#00ffff"/>
<rect x="429" y="95" width="3" height="21" fill="#00ffff"/>
<rect x="435" y="107" width="1" height="20" fill="#00ffff"/>
<rect x="434" y="115" width="3" height="6" fill="#00ffff"/>
<rect x="439" y="113" width="1" height="3" fill="#ff0000"/>
<rect x="439" y="122" width="1" height="7" fill="#ff0000"/>
<path d="M438 116h3v6h-3zM439 117v4h1v-4z" fill="#ff0000" fill-rule="evenodd"/>
<rect x="444" y="110" width="1" height="27" fill="#00ffff"/>
<rect x="443" y="115" width="3" height="13" fill="#00ffff"/>
<rect x="449" y="125" width="1" height="12" fill="#00ffff"/>
<rect x="448" y="127" width="3" height="6" fill="#00ffff"/>
<rect x="453" y="118" width="1" height="11" fill="#ff0000"/>
<rect x="453" y="133" width="1" height="10" fill="#ff0000"/>
<path d="M452 129h3v4h-3zM453 130v2h1v-2z" fill="#ff0000" fill-rule="evenodd"/>
<rect x="458" y="128" width="1" height="15" fill="#00ffff"/>
<rect x="457" y="129" width="3" height="11" fill="#00ffff"/>
<rect x="463" y="126" width="1" height="7" fill="#ff0000"/>
<rect x="463" y="139" width="1" height="5" fill="#ff0000"/>
<path d="M462 133h3v6h-3zM463 134v4h1v-4z" fill="#ff0000" fill-rule="evenodd"/>
<rect x="468" y="129" width="1" height="2" fill="#ff0000"/>
<rect x="468" y="135" width="1" height="1" fill="#ff0000"/>
<path d="M467 131h3v4h-3zM468 132v2h1v-2z" fill="#ff0000" fill-rule="evenodd"/>
<rect x="472" y="113" width="1" height="29" fill="#00ffff"/>
<rect x="471" y="132" width="3" height="1" fill="#00ffff"/>
<rect x="477" y="130" width="1" height="15" fill="#00ffff"/>
<rect x="476" y="132" width="3" height="6" fill="#00ffff"/>
<rect x="482" y="125" width="1" height="6" fill="#ff0000"/>
<rect x="482" y="138" width="1" height="3" fill="#ff0000"/>
<path d="M481 131h3v7h-3zM482 132v5h1v-5z" fill="#ff0000" fill-rule="evenodd"/>
<rect x="487" y="129" width="1" height="20" fill="#00ffff"/>
<rect x="486" y="131" width="3" height="3" fill="#00ffff"/>
<rect x="491" y="119" width="1" height="2" fill="#ff0000"/>
<rect x="491" y="135" width="1" height="3" fill="#ff0000"/>
<path d="M490 121h3v14h-3zM491 122v12h1v-12z" fill="#ff0000" fill-rule="evenodd"/>
<rect x="496" y="104" width="1" height="10" fill="#ff0000"/>
<rect x="496" y="122" width="1" height="1" fill="#ff0000"/>
<path d="M495 114h3v8h-3zM496 115v6h1v-6z" fill="#ff0000" fill-rule="evenodd"/>
<rect x="501" y="108" width="1" height="16" fill="#00ffff"/>
<rect x="500" y="114" width="3" height="5" fill="#00ffff"/>
<rect x="506" y="116" width="1" height="25" fill="#00ffff"/>
<rect x="505" y="117" width="3" height="22" fill="#00ffff"/>
<rect x="510" y="136" width="1" height="32" fill="#00ffff"/>
<rect x="509" y="138" width="3" height="17" fill="#00ffff"/>
<rect x="515" y="152" width="1" height="13" fill="#00ffff"/>
<rect x="514" y="154" width="3" height="5" fill="#00ffff"/>
<rect x="520" y="154" width="1" height="17" fill="#00ffff"/>
<rect x="519" y="158" width="3" height="12" fill="#00ffff"/>
<rect x="525" y="168" width="1" height="15" fill="#00ffff"/>
<rect x="524" y="169" width="3" height="2" fill="#00ffff"/>
<rect x="529" y="166" width="1" height="13" fill="#ffffff"/>
<rect x="528" y="170" width="3" height="1" fill="#ffffff"/>
<rect x="534" y="149" width="1" height="3" fill="#ff0000"/>
<rect x="534" y="171" width="1" height="1" fill="#ff0000"/>
<path d="M533 152h3v19h-3zM534 153v17h1v-17z" fill="#ff0000" fill-rule="evenodd"/>
<rect x="539" y="141" width="1" height="3" fill="#ff0000"/>
<rect x="539" y="150" width="1" height="3" fill="#ff0000"/>
<path d="M538 144h3v6h-3zM539 145v4h1v-4z" fill="#ff0000" fill-rule="evenodd"/>
<rect x="544" y="136" width="1" height="2" fill="#ff0000"/>
<rect x="544" y="144" width="1" height="7" fill="#ff0000"/>
<path d="M543 138h3v6h-3zM544 139v4h1v-4z" fill="#ff0000" fill-rule="evenodd"/>
<rect x="548" y="136" width="1" height="9" fill="#00ffff"/>
<rect x="547" y="139" width="3" height="6" fill="#00ffff"/>
<rect x="553" y="143" width="1" height="11" fill="#00ffff"/>
<rect x="552" y="144" width="3" height="6" fill="#00ffff"/>
<rect x="558" y="127" width="1" height="1" fill="#ff0000"/>
<rect x="558" y="149" width="1" height="3" fill="#ff0000"/>
<path d="M557 128h3v21h-3zM558 129v19h1v-19z" fill="#ff0000" fill-rule="evenodd"/>
<rect x="563" y="126" width="1" height="10" fill="#ffffff"/>
<rect x="562" y="128" width="3" height="1" fill="#ffffff"/>
<rect x="567" y="125" width="1" height="13" fill="#00ffff"/>
<rect x="566" y="129" width="3" height="1" fill="#00ffff"/>
<rect x="572" y="128" width="1" height="15" fill="#00ffff"/>
<rect x="571" y="129" width="3" height="5" fill="#00ffff"/>
<rect x="577" y="124" width="1" height="17" fill="#00ffff"/>
<rect x="576" y="133" width="3" height="4" fill="#00ffff"/>
<rect x="582" y="108" width="1" height="2" fill="#ff0000"/>
<rect x="582" y="137" width="1" height="2" fill="#ff0000"/>
<path d="M581 110h3v27h-3zM582 111v25h1v-25z" fill="#ff0000" fill-rule="evenodd"/>
<rect x="586" y="82" width="1" height="4" fill="#ff0000"/>
<rect x="586" y="111" width="1" height="2" fill="#ff0000"/>
<path d="M585 86h3v25h-3zM586 87v23h1v-23z" fill="#ff0000" fill-rule="evenodd"/>
<rect x="591" y="83" width="1" height="15" fill="#00ffff"/>
<rect x="590" y="86" width="3" height="4" fill="#00ffff"/>
<rect x="596" y="84" width="1" height="8" fill="#ffffff"/>
<rect x="595" y="89" width="3" height="1" fill="#ffffff"/>
<rect x="601" y="76" width="1" height="23" fill="#00ffff"/>
<rect x="600" y="90" width="3" height="3" fill="#00ffff"/>
<rect x="605" y="81" width="1" height="5" fill="#ff0000"/>
<rect x="605" y="93" width="1" height="9" fill="#ff0000"/>
<path d="M604 86h3v7h-3zM605 87v5h1v-5z" fill="#ff0000" fill-rule="evenodd"/>
<rect x="610" y="82" width="1" height="9" fill="#00ffff"/>
<rect x="609" y="85" width="3" height="2" fill="#00ffff"/>
<rect x="615" y="55" width="1" height="3" fill="#ff0000"/>
<rect x="615" y="87" width="1" height="8" fill="#ff0000"/>
<path d="M614 58h3v29h-3zM615 59v27h1v-27z" fill="#ff0000" fill-rule="evenodd"/>
<rect x="619" y="43" width="1" height="8" fill="#ff0000"/>
<path d="M618 51h3v8h-3zM619 52v6h1v-6z" fill="#ff0000" fill-rule="evenodd"/>
<rect x="624" y="39" width="1" height="5" fill="#ff0000"/>
<rect x="624" y="53" width="1" height="3" fill="#ff0000"/>
<path d="M623 44h3v9h-3zM624 45v7h1v-7z" fill="#ff0000" fill-rule="evenodd"/>
<rect x="629" y="35" width="1" height="7" fill="#ff0000"/>
<rect x="629" y="45" width="1" height="5" fill="#ff0000"/>
<path d="M628 42h3v3h-3zM629 43v1h1v-1z" fill="#ff0000" fill-rule="evenodd"/>
<rect x="634" y="38" width="1" height="13" fill="#00ffff"/>
<rect x="633" y="43" width="3" height="3" fill="#00ffff"/>
<rect x="638" y="39" width="1" height="12" fill="#ff0000"/>
<rect x="637" y="44" width="3" height="2" fill="#ff0000"/>
<rect x="643" y="30" width="1" height="11" fill="#ff0000"/>
<rect x="643" y="45" width="1" height="8" fill="#ff0000"/>
<path d="M642 41h3v4h-3zM643 42v2h1v-2z" fill="#ff0000" fill-rule="evenodd"/>
<rect x="648" y="30" width="1" height="9" fill="#ff0000"/>
<rect x="648" y="42" width="1" height="2" fill="#ff0000"/>
<path d="M647 39h3v3h-3zM648 40v1h1v-1z" fill="#ff0000" fill-rule="evenodd"/>
<rect x="653" y="27" width="1" height="5" fill="#ff0000"/>
<rect x="653" y="40" width="1" height="6" fill="#ff0000"/>
<path d="M652 32h3v8h-3zM653 33v6h1v-6z" fill="#ff0000" fill-rule="evenodd"/>
<rect x="657" y="27" width="1" height="14" fill="#00ffff"/>
<rect x="656" y="30" width="3" height="10" fill="#00ffff"/>
<rect x="662" y="25" width="1" height="9" fill="#ff0000"/>
<path d="M661 34h3v6h-3zM662 35v4h1v-4z" fill="#ff0000" fill-rule="evenodd"/>
<rect x="667" y="30" width="1" height="38" fill="#00ffff"/>
<rect x="666" y="34" width="3" height="29" fill="#00ffff"/>
<rect x="672" y="46" width="1" height="8" fill="#ff0000"/>
<rect x="672" y="62" width="1" height="7" fill="#ff0000"/>
<path d="M671 54h3v8h-3zM672 55v6h1v-6z" fill="#ff0000" fill-rule="evenodd"/>
<rect x="676" y="51" width="1" height="35" fill="#00ffff"/>
<rect x="675" y="54" width="3" height="29" fill="#00ffff"/>
<rect x="681" y="64" width="1" height="4" fill="#ff0000"/>
<rect x="681" y="85" width="1" height="5" fill="#ff0000"/>
<path d="M680 68h3v17h-3zM681 69v15h1v-15z" fill="#ff0000" fill-rule="evenodd"/>
<rect x="686" y="58" width="1" height="14" fill="#00ffff"/>
<rect x="685" y="68" width="3" height="4" fill="#00ffff"/>
<rect x="691" y="63" width="1" height="20" fill="#00ffff"/>
<rect x="690" y="70" width="3" height="4" fill="#00ffff"/>
<rect x="695" y="64" width="1" height="2" fill="#ff0000"/>
<rect x="695" y="73" width="1" height="7" fill="#ff0000"/>
<path d="M694 66h3v7h-3zM695 67v5h1v-5z" fill="#ff0000" fill-rule="evenodd"/>
<rect x="700" y="63" width="1" height="1" fill="#ff0000"/>
<path d="M699 64h3v3h-3zM700 65v1h1v-1z" fill="#ff0000" fill-rule="evenodd"/>
<rect x="372" y="71" width="2" height="1" fill="#0000ff"/>
<rect x="374" y="72" width="4" height="1" fill="#0000ff"/>
<rect x="378" y="73" width="4" height="1" fill="#0000ff"/>
<rect x="382" y="74" width="4" height="1" fill="#0000ff"/>
<rect x="386" y="75" width="4" height="1" fill="#0000ff"/>
<rect x="390" y="76" width="4" height="1" fill="#0000ff"/>
<rect x="394" y="77" width="4" height="1" fill="#0000ff"/>
<rect x="398" y="78" width="4" height="1" fill="#0000ff"/>
<rect x="402" y="79" width="4" height="1" fill="#0000ff"/>
<rect x="406" y="80" width="4" height="1" fill="#0000ff"/>
<rect x="410" y="81" width="4" height="1" fill="#0000ff"/>
<rect x="414" y="82" width="4" height="1" fill="#0000ff"/>
<rect x="418" y="83" width="4" height="1" fill="#0000ff"/>
<rect x="422" y="84" width="4" height="1" fill="#0000ff"/>
<rect x="426" y="85" width="4" height="1" fill="#0000ff"/>
<rect x="430" y="86" width="4" height="1" fill="#0000ff"/>
<rect x="434" y="87" width="4" height="1" fill="#0000ff"/>
<rect x="438" y="88" width="4" height="1" fill="#0000ff"/>
<rect x="442" y="89" width="4" height="1" fill="#0000ff"/>
<rect x="446" y="90" width="4" height="1" fill="#0000ff"/>
<rect x="450" y="91" width="4" height="1" fill="#0000ff"/>
<rect x="454" y="92" width="4" height="1" fill="#0000ff"/>
<rect x="458" y="93" width="4" height="1" fill="#0000ff"/>
<rect x="462" y="94" width="4" height="1" fill="#0000ff"/>
<rect x="466" y="95" width="4" height="1" fill="#0000ff"/>
<rect x="470" y="96" width="4" height="1" fill="#0000ff"/>
<rect x="474" y="97" width="4" height="1" fill="#0000ff"/>
<rect x="478" y="98" width="4" height="1" fill="#0000ff"/>
<rect x="482" y="99" width="4" height="1" fill="#0000ff"/>
<rect x="486" y="100" width="4" height="1" fill="#0000ff"/>
<rect x="490" y="101" width="4" height="1" fill="#0000ff"/>
<rect x="494" y="102" width="4" height="1" fill="#0000ff"/>
<rect x="498" y="103" width="4" height="1" fill="#0000ff"/>
<rect x="502" y="104" width="4" height="1" fill="#0000ff"/>
<rect x="506" y="105" width="4" height="1" fill="#0000ff"/>
<rect x="510" y="106" width="4" height="1" fill="#0000ff"/>
<rect x="514" y="107" width="4" height="1" fill="#0000ff"/>
<rect x="518" y="108" width="4" height="1" fill="#0000ff"/>
<rect x="522" y="109" width="4" height="1" fill="#0000ff"/>
<rect x="526" y="110" width="4" height="1" fill="#0000ff"/>
<rect x="530" y="111" width="4" height="1" fill="#0000ff"/>
<rect x="534" y="112" width="4" height="1" fill="#0000ff"/>
<rect x="538" y="113" width="4" height="1" fill="#0000ff"/>
<rect x="542" y="114" width="4" height="1" fill="#0000ff"/>
<rect x="546" y="115" width="4" height="1" fill="#0000ff"/>
<rect x="550" y="116" width="4" height="1" fill="#0000ff"/>
<rect x="554" y="117" width="4" height="1" fill="#0000ff"/>
<rect x="558" y="118" width="4" height="1" fill="#0000ff"/>
<rect x="562" y="119" width="4" height="1" fill="#0000ff"/>
<rect x="566" y="120" width="4" height="1" fill="#0000ff"/>
<rect x="570" y="121" width="4" height="1" fill="#0000ff"/>
<rect x="574" y="122" width="4" height="1" fill="#0000ff"/>
<rect x="578" y="123" width="2" height="1" fill="#0000ff"/>
<rect x="657" y="41" width="47" height="1" fill="#ffe9e0"/>
<rect x="681" y="90" width="1" height="1" fill="#ffe9e0"/>
<rect x="682" y="89" width="2" height="1" fill="#ffe9e0"/>
<rect x="684" y="88" width="1" height="1" fill="#ffe9e0"/>
<rect x="685" y="87" width="2" height="1" fill="#ffe9e0"/>
<rect x="687" y="86" width="1" height="1" fill="#ffe9e0"/>
<rect x="688" y="85" width="2" height="1" fill="#ffe9e0"/>
<rect x="690" y="84" width="1" height="1" fill="#ffe9e0"/>
<rect x="691" y="83" width="2" height="1" fill="#ffe9e0"/>
<rect x="693" y="82" width="1" height="1" fill="#ffe9e0"/>
<rect x="694" y="81" width="1" height="1" fill="#ffe9e0"/>
<rect x="695" y="80" width="2" height="1" fill="#ffe9e0"/>
<rect x="697" y="79" width="1" height="1" fill="#ffe9e0"/>
<rect x="698" y="78" width="2" height="1" fill="#ffe9e0"/>
<rect x="700" y="77" width="1" height="1" fill="#ffe9e0"/>
<rect x="701" y="76" width="2" height="1" fill="#ffe9e0"/>
<rect x="703" y="75" width="1" height="1" fill="#ffe9e0"/>
<rect x="704" y="74" width="2" height="1" fill="#ffe9e0"/>
<rect x="706" y="73" width="1" height="1" fill="#ffe9e0"/>
<rect x="672" y="45" width="1" height="1" fill="#fff"/>
<rect x="0" y="0" width="3" height="440" fill="#ff0000"/>
<polyline points="3.5,407.9 8.5,410.9 12.5,410.6 17.5,408.6 22.5,406.5 27.5,401.1 31.5,390.2 36.5,382.7 41.5,375.9 46.5,357.5 50.5,359.1 55.5,369.7 60.5,379.3 65.5,377.2 69.5,374.5 74.5,358.1 79.5,350.6 84.5,356.8 88.5,369.7 93.5,367.9 98.5,360.6 102.5,350.3 107.5,352.0 112.5,363.0 117.5,352.4 121.5,342.5 126.5,336.7 131.5,333.9 136.5,329.7 140.5,332.0 145.5,333.1 150.5,335.9 155.5,332.1 159.5,328.6 164.5,327.8 169.5,328.8 174.5,338.7 178.5,343.7 183.5,365.6 188.5,374.3 193.5,369.1 197.5,375.2 202.5,382.9 207.5,371.1 212.5,362.2 216.5,349.6 221.5,340.3 226.5,334.7 231.5,333.2 235.5,329.6 240.5,324.3 245.5,329.8 250.5,341.5 254.5,345.3 259.5,344.9 264.5,353.9 268.5,358.0 273.5,355.6 278.5,351.5 283.5,357.2 287.5,350.6 292.5,342.2 297.5,348.9 302.5,356.8 306.5,346.9 311.5,341.2 316.5,334.5 321.5,331.2 325.5,330.2 330.5,327.5 335.5,326.0 340.5,323.5 344.5,325.4 349.5,331.2 354.5,325.0 359.5,326.6 363.5,338.3 368.5,336.7 373.5,338.5 378.5,347.7 382.5,358.7 387.5,376.0 392.5,375.9 397.5,374.0 401.5,384.4 406.5,394.6 411.5,400.0 416.5,395.5 420.5,387.0 425.5,370.5 430.5,376.2 435.5,384.1 439.5,385.8 444.5,391.0 449.5,398.4 453.5,397.4 458.5,403.7 463.5,403.2 468.5,401.5 472.5,397.3 477.5,398.1 482.5,392.2 487.5,386.6 491.5,370.3 496.5,359.4 501.5,355.4 506.5,369.4 510.5,379.6 515.5,388.6 520.5,399.4 525.5,401.4 529.5,402.8 534.5,395.3 539.5,385.5 544.5,373.4 548.5,359.5 553.5,354.2 558.5,341.0 563.5,332.8 567.5,328.8 572.5,329.7 577.5,339.2 582.5,331.9 586.5,327.5 591.5,326.1 596.5,325.3 601.5,329.9 605.5,329.7 610.5,329.5 615.5,325.1 619.5,324.0 624.5,322.7 629.5,323.2 634.5,325.2 638.5,325.9 643.5,327.1 648.5,327.4 653.5,325.2 657.5,335.1 662.5,338.6 667.5,359.8 672.5,371.2 676.5,386.2 681.5,386.2 686.5,387.7 691.5,389.4 695.5,387.4 700.5,384.9" fill="none" stroke="#ffffff" stroke-width="1" stroke-linejoin="round"/>
<polyline points="3.5,395.5 8.5,401.4 12.5,403.8 17.5,405.9 22.5,406.5 27.5,404.2 31.5,399.7 36.5,393.6 41.5,386.1 46.5,376.5 50.5,371.8 55.5,371.5 60.5,374.2 65.5,375.2 69.5,373.8 74.5,369.0 79.5,361.5 84.5,359.6 88.5,363.0 93.5,364.6 98.5,363.3 102.5,359.0 107.5,356.6 112.5,358.8 117.5,356.6 121.5,351.9 126.5,346.9 131.5,342.5 136.5,338.3 140.5,336.2 145.5,335.1 150.5,335.4 155.5,334.3 159.5,332.4 164.5,330.9 169.5,330.2 174.5,333.0 178.5,336.6 183.5,346.2 188.5,355.6 193.5,360.1 197.5,365.1 202.5,371.0 207.5,371.1 212.5,368.1 216.5,361.9 221.5,354.7 226.5,348.0 231.5,343.1 235.5,338.6 240.5,333.8 245.5,332.5 250.5,335.5 254.5,338.8 259.5,340.8 264.5,345.2 268.5,349.4 273.5,351.5 278.5,351.5 283.5,353.4 287.5,352.5 292.5,349.0 297.5,349.0 302.5,351.6 306.5,350.1 311.5,347.1 316.5,342.9 321.5,339.0 325.5,336.1 330.5,333.2 335.5,330.8 340.5,328.4 344.5,327.4 349.5,328.7 354.5,327.4 359.5,327.1 363.5,330.8 368.5,332.8 373.5,334.7 378.5,339.0 382.5,345.6 387.5,355.7 392.5,362.5 397.5,366.3 401.5,372.3 406.5,379.8 411.5,386.5 416.5,389.5 420.5,388.7 425.5,382.6 430.5,380.5 435.5,381.7 439.5,383.1 444.5,385.7 449.5,389.9 453.5,392.4 458.5,396.2 463.5,398.5 468.5,399.5 472.5,398.8 477.5,398.6 482.5,396.5 487.5,393.2 491.5,385.5 496.5,376.8 501.5,369.7 506.5,369.6 510.5,372.9 515.5,378.2 520.5,385.2 525.5,390.6 529.5,394.7 534.5,394.9 539.5,391.8 544.5,385.6 548.5,376.9 553.5,369.3 558.5,359.9 563.5,350.8 567.5,343.5 572.5,338.9 577.5,339.0 582.5,336.6 586.5,333.6 591.5,331.1 596.5,329.2 601.5,329.4 605.5,329.5 610.5,329.5 615.5,328.0 619.5,326.7 624.5,325.4 629.5,324.6 634.5,324.8 638.5,325.2 643.5,325.8 648.5,326.4 653.5,326.0 657.5,329.0 662.5,332.2 667.5,342.2 672.5,351.6 676.5,363.0 681.5,370.7 686.5,376.4 691.5,380.3 695.5,382.0 700.5,383.5" fill="none" stroke="#ffff00" stroke-width="1" stroke-linejoin="round"/>
<rect x="758" y="2" width="15" height="13" fill="#808000"/>
<rect x="759" y="2" width="14" height="12" fill="#00ffff"/>
<rect x="760" y="3" width="12" height="10" fill="#c0c0c0"/>
<rect x="763" y="2" width="8" height="7" fill="#0000ff"/>
<rect x="764" y="4" width="6" height="2" fill="#c8c8c0"/>
<rect x="769" y="4" width="1" height="4" fill="#c8c8c0"/>
<rect x="761" y="6" width="8" height="7" fill="#0000ff"/>
<rect x="762" y="8" width="6" height="4" fill="#c0c0c0"/>
<path d="M728.5 440V421.5H760.5V440M753.5 421.5V440" fill="none" stroke="url(#dz)" stroke-width="1"/>
<path d="M728.5 425.5H741.5V421.5L753.5 430.5L741.5 440V435.5H728.5Z" fill="none" stroke="#ffff00" stroke-width="1"/>
</svg>
<span class="t ti" style="left:17px;top:2px;letter-spacing:0.86px;transform:scaleX(1.4);">欧元美元</span>
<span class="t ti" style="left:89px;top:2px;transform:scaleX(0.7);">(</span>
<span class="t ti" style="left:91px;top:2px;letter-spacing:0.86px;transform:scaleX(1.4);">外汇汇率</span>
<span class="t ti" style="left:166px;top:2px;transform:scaleX(0.92);">3814)</span>
<span class="t ti" style="left:193px;top:2px;letter-spacing:0.86px;transform:scaleX(1.4);">日线</span>
<span class="t ax" style="left:725px;top:114px;">1.3500</span>
<span class="t ax" style="left:725px;top:247px;">1.3000</span>
<span class="t ax" style="left:725px;top:329px;">80</span>
<span class="t ax" style="left:725px;top:362px;">50</span>
<span class="t ax" style="left:725px;top:395px;">20</span>
<span class="t kd" style="left:6px;top:297px;color:#ffff00;transform:scaleX(0.86);">KD(9,3,3)</span>
<span class="t kd" style="left:195px;top:296px;color:#fff;transform:scaleX(0.89);">K:34.5055</span>
<span class="t kd" style="left:388px;top:296px;color:#ffff00;">D:35.3883</span>
<span class="t dt" style="left:62px;top:426px;">02/01</span>
<span class="t dt" style="left:157.3px;top:426px;">03/01</span>
<span class="t dt" style="left:261px;top:426px;">04/02</span>
<span class="t dt" style="left:361px;top:426px;">05/01</span>
<span class="t dt" style="left:470px;top:426px;">06/01</span>
<span class="t dt" style="left:570.3px;top:426px;">07/02</span>
<span class="t dt" style="left:683px;top:426px;">08/03</span>
</div>
</body></html>
